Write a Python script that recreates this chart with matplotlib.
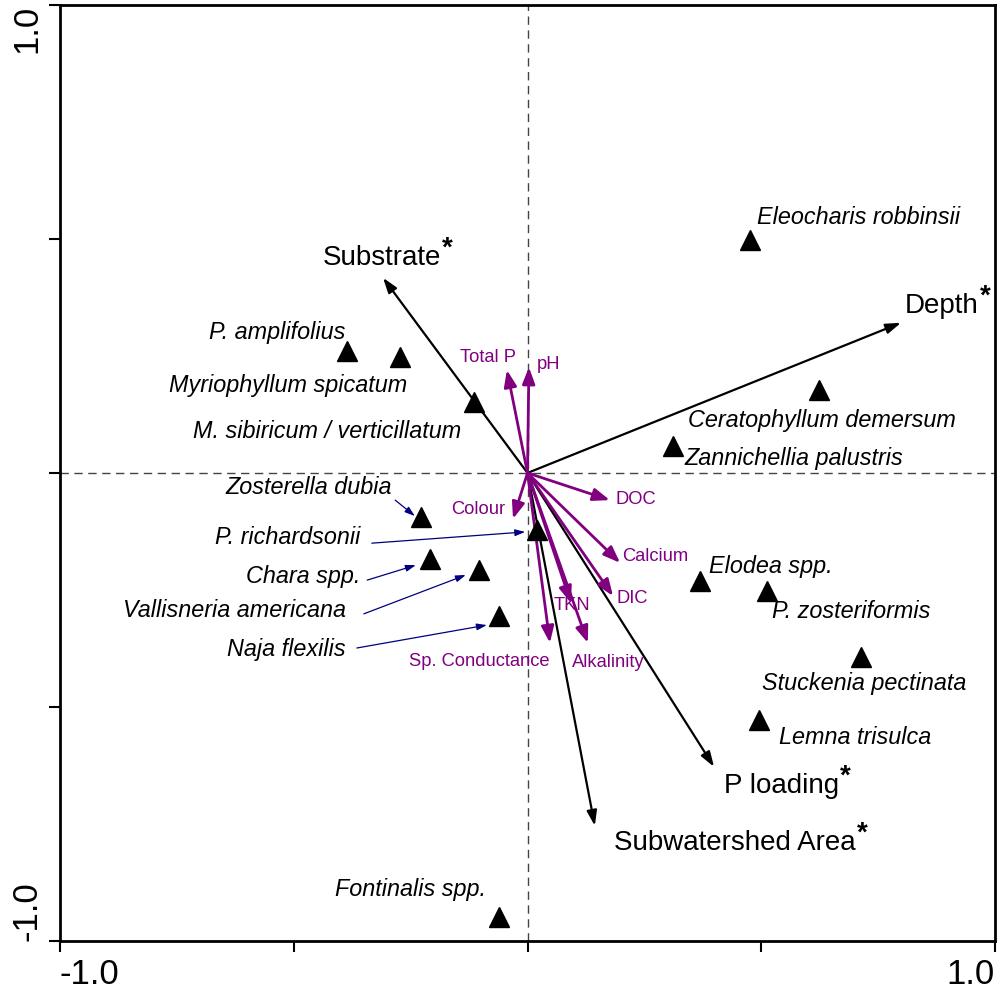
import matplotlib
matplotlib.use("Agg")
import matplotlib.pyplot as plt

plt.rcParams["font.family"] = ["Liberation Sans", "DejaVu Sans"]

# species scores (triangles)
species = ["Eleocharis robbinsii", "Ceratophyllum demersum", "Zannichellia palustris",
           "P. amplifolius", "Myriophyllum spicatum", "M. sibiricum / verticillatum",
           "Zosterella dubia", "P. richardsonii", "Chara spp.", "Vallisneria americana",
           "Naja flexilis", "Elodea spp.", "P. zosteriformis", "Stuckenia pectinata",
           "Lemna trisulca", "Fontinalis spp."]
sp_x = [0.476, 0.624, 0.311, -0.386, -0.273, -0.114, -0.228, 0.020, -0.209, -0.104,
        -0.061, 0.369, 0.512, 0.713, 0.495, -0.061]
sp_y = [0.498, 0.177, 0.058, 0.261, 0.248, 0.152, -0.094, -0.122, -0.184, -0.207,
        -0.306, -0.231, -0.252, -0.393, -0.528, -0.949]

# significant environmental variables (black arrows)
env = ["Substrate", "Depth", "P loading", "Subwatershed Area"]
env_x = [-0.309, 0.799, 0.399, 0.144]
env_y = [0.417, 0.321, -0.628, -0.754]

# other environmental variables (purple arrows)
chem = ["Total P", "pH", "DOC", "Colour", "Calcium", "DIC", "TKN", "Alkalinity",
        "Sp. Conductance"]
chem_x = [-0.044, 0.003, 0.176, -0.031, 0.198, 0.183, 0.093, 0.129, 0.048]
chem_y = [0.220, 0.226, -0.058, -0.098, -0.192, -0.263, -0.278, -0.363, -0.363]

# label placement (x, y, ha)
sp_lab = {
    "Eleocharis robbinsii": (0.491, 0.545, "left"),
    "Ceratophyllum demersum": (0.343, 0.113, "left"),
    "Zannichellia palustris": (0.335, 0.030, "left"),
    "P. amplifolius": (-0.390, 0.301, "right"),
    "Myriophyllum spicatum": (-0.258, 0.186, "right"),
    "M. sibiricum / verticillatum": (-0.142, 0.088, "right"),
    "Zosterella dubia": (-0.290, -0.030, "right"),
    "P. richardsonii": (-0.358, -0.137, "right"),
    "Chara spp.": (-0.358, -0.222, "right"),
    "Vallisneria americana": (-0.388, -0.293, "right"),
    "Naja flexilis": (-0.388, -0.378, "right"),
    "Elodea spp.": (0.388, -0.199, "left"),
    "P. zosteriformis": (0.523, -0.297, "left"),
    "Stuckenia pectinata": (0.502, -0.449, "left"),
    "Lemna trisulca": (0.538, -0.566, "left"),
    "Fontinalis spp.": (-0.089, -0.889, "right"),
}
pointers = {
    "Zosterella dubia": ((-0.283, -0.058), (-0.241, -0.092)),
    "P. richardsonii": ((-0.333, -0.150), (-0.005, -0.126)),
    "Chara spp.": ((-0.343, -0.229), (-0.239, -0.197)),
    "Vallisneria americana": ((-0.350, -0.301), (-0.132, -0.218)),
    "Naja flexilis": ((-0.365, -0.374), (-0.087, -0.325)),
}
env_lab = [(-0.439, 0.459), (0.807, 0.357), (0.420, -0.669), (0.185, -0.791)]
chem_lab = [(-0.084, 0.246), (0.044, 0.231), (0.232, -0.056), (-0.106, -0.079),
            (0.273, -0.179), (0.224, -0.269), (0.095, -0.284), (0.172, -0.404),
            (-0.104, -0.402)]

purple = "#800080"
navy = "#000080"

fig = plt.figure(figsize=(10, 9.93), dpi=100)
ax = fig.add_axes([0.06, 0.0524, 0.935, 0.9426])
ax.set_xlim(-1, 1)
ax.set_ylim(-1, 1)

ax.axhline(0, color="#444444", lw=1, ls=(0, (6, 4)), zorder=1)
ax.axvline(0, color="#444444", lw=1, ls=(0, (6, 4)), zorder=1)

for name, x, y in zip(env, env_x, env_y):
    ax.annotate("", xy=(x, y), xytext=(0, 0),
                arrowprops=dict(arrowstyle="-|>,head_length=0.9,head_width=0.3",
                                color="black", lw=1.6, shrinkA=0, shrinkB=0),
                zorder=3)
for name, x, y in zip(chem, chem_x, chem_y):
    ax.annotate("", xy=(x, y), xytext=(0, 0),
                arrowprops=dict(arrowstyle="-|>,head_length=1.0,head_width=0.38",
                                color=purple, lw=2, shrinkA=0, shrinkB=0),
                zorder=3)

ax.plot(sp_x, sp_y, ls="none", marker="^", ms=14, color="black", zorder=4)

for name in species:
    lx, ly, ha = sp_lab[name]
    ax.text(lx, ly, name, ha=ha, va="center", fontsize=16.8, style="italic")
for name, (p0, p1) in pointers.items():
    ax.annotate("", xy=p1, xytext=p0,
                arrowprops=dict(arrowstyle="-|>,head_length=0.6,head_width=0.2",
                                color=navy, lw=0.9, shrinkA=0, shrinkB=0))

for name, (lx, ly) in zip(env, env_lab):
    t = ax.text(lx, ly, name, ha="left", va="center", fontsize=20)
    ax.annotate("*", xy=(1, 1), xycoords=t, xytext=(1, 7),
                textcoords="offset points", ha="left", va="top", fontsize=20,
                fontweight="bold")

for name, (lx, ly) in zip(chem, chem_lab):
    ax.text(lx, ly, name, ha="center", va="center", fontsize=13.2, color=purple)

for s in ax.spines.values():
    s.set_linewidth(2)

ax.set_xticks([-1, -0.5, 0, 0.5, 1])
ax.set_xticklabels(["-1.0", "", "", "", "1.0"], fontsize=25)
ax.set_yticks([-1, -0.5, 0, 0.5, 1])
ax.set_yticklabels(["-1.0", "", "", "", "1.0"], fontsize=25, rotation=90)
ax.tick_params(direction="out", length=8, width=1.5, pad=4)
xl = ax.get_xticklabels()
xl[0].set_ha("left")
xl[-1].set_ha("right")
yl = ax.get_yticklabels()
yl[0].set_va("bottom")
yl[-1].set_va("top")

fig.savefig("out.png", dpi=100)
